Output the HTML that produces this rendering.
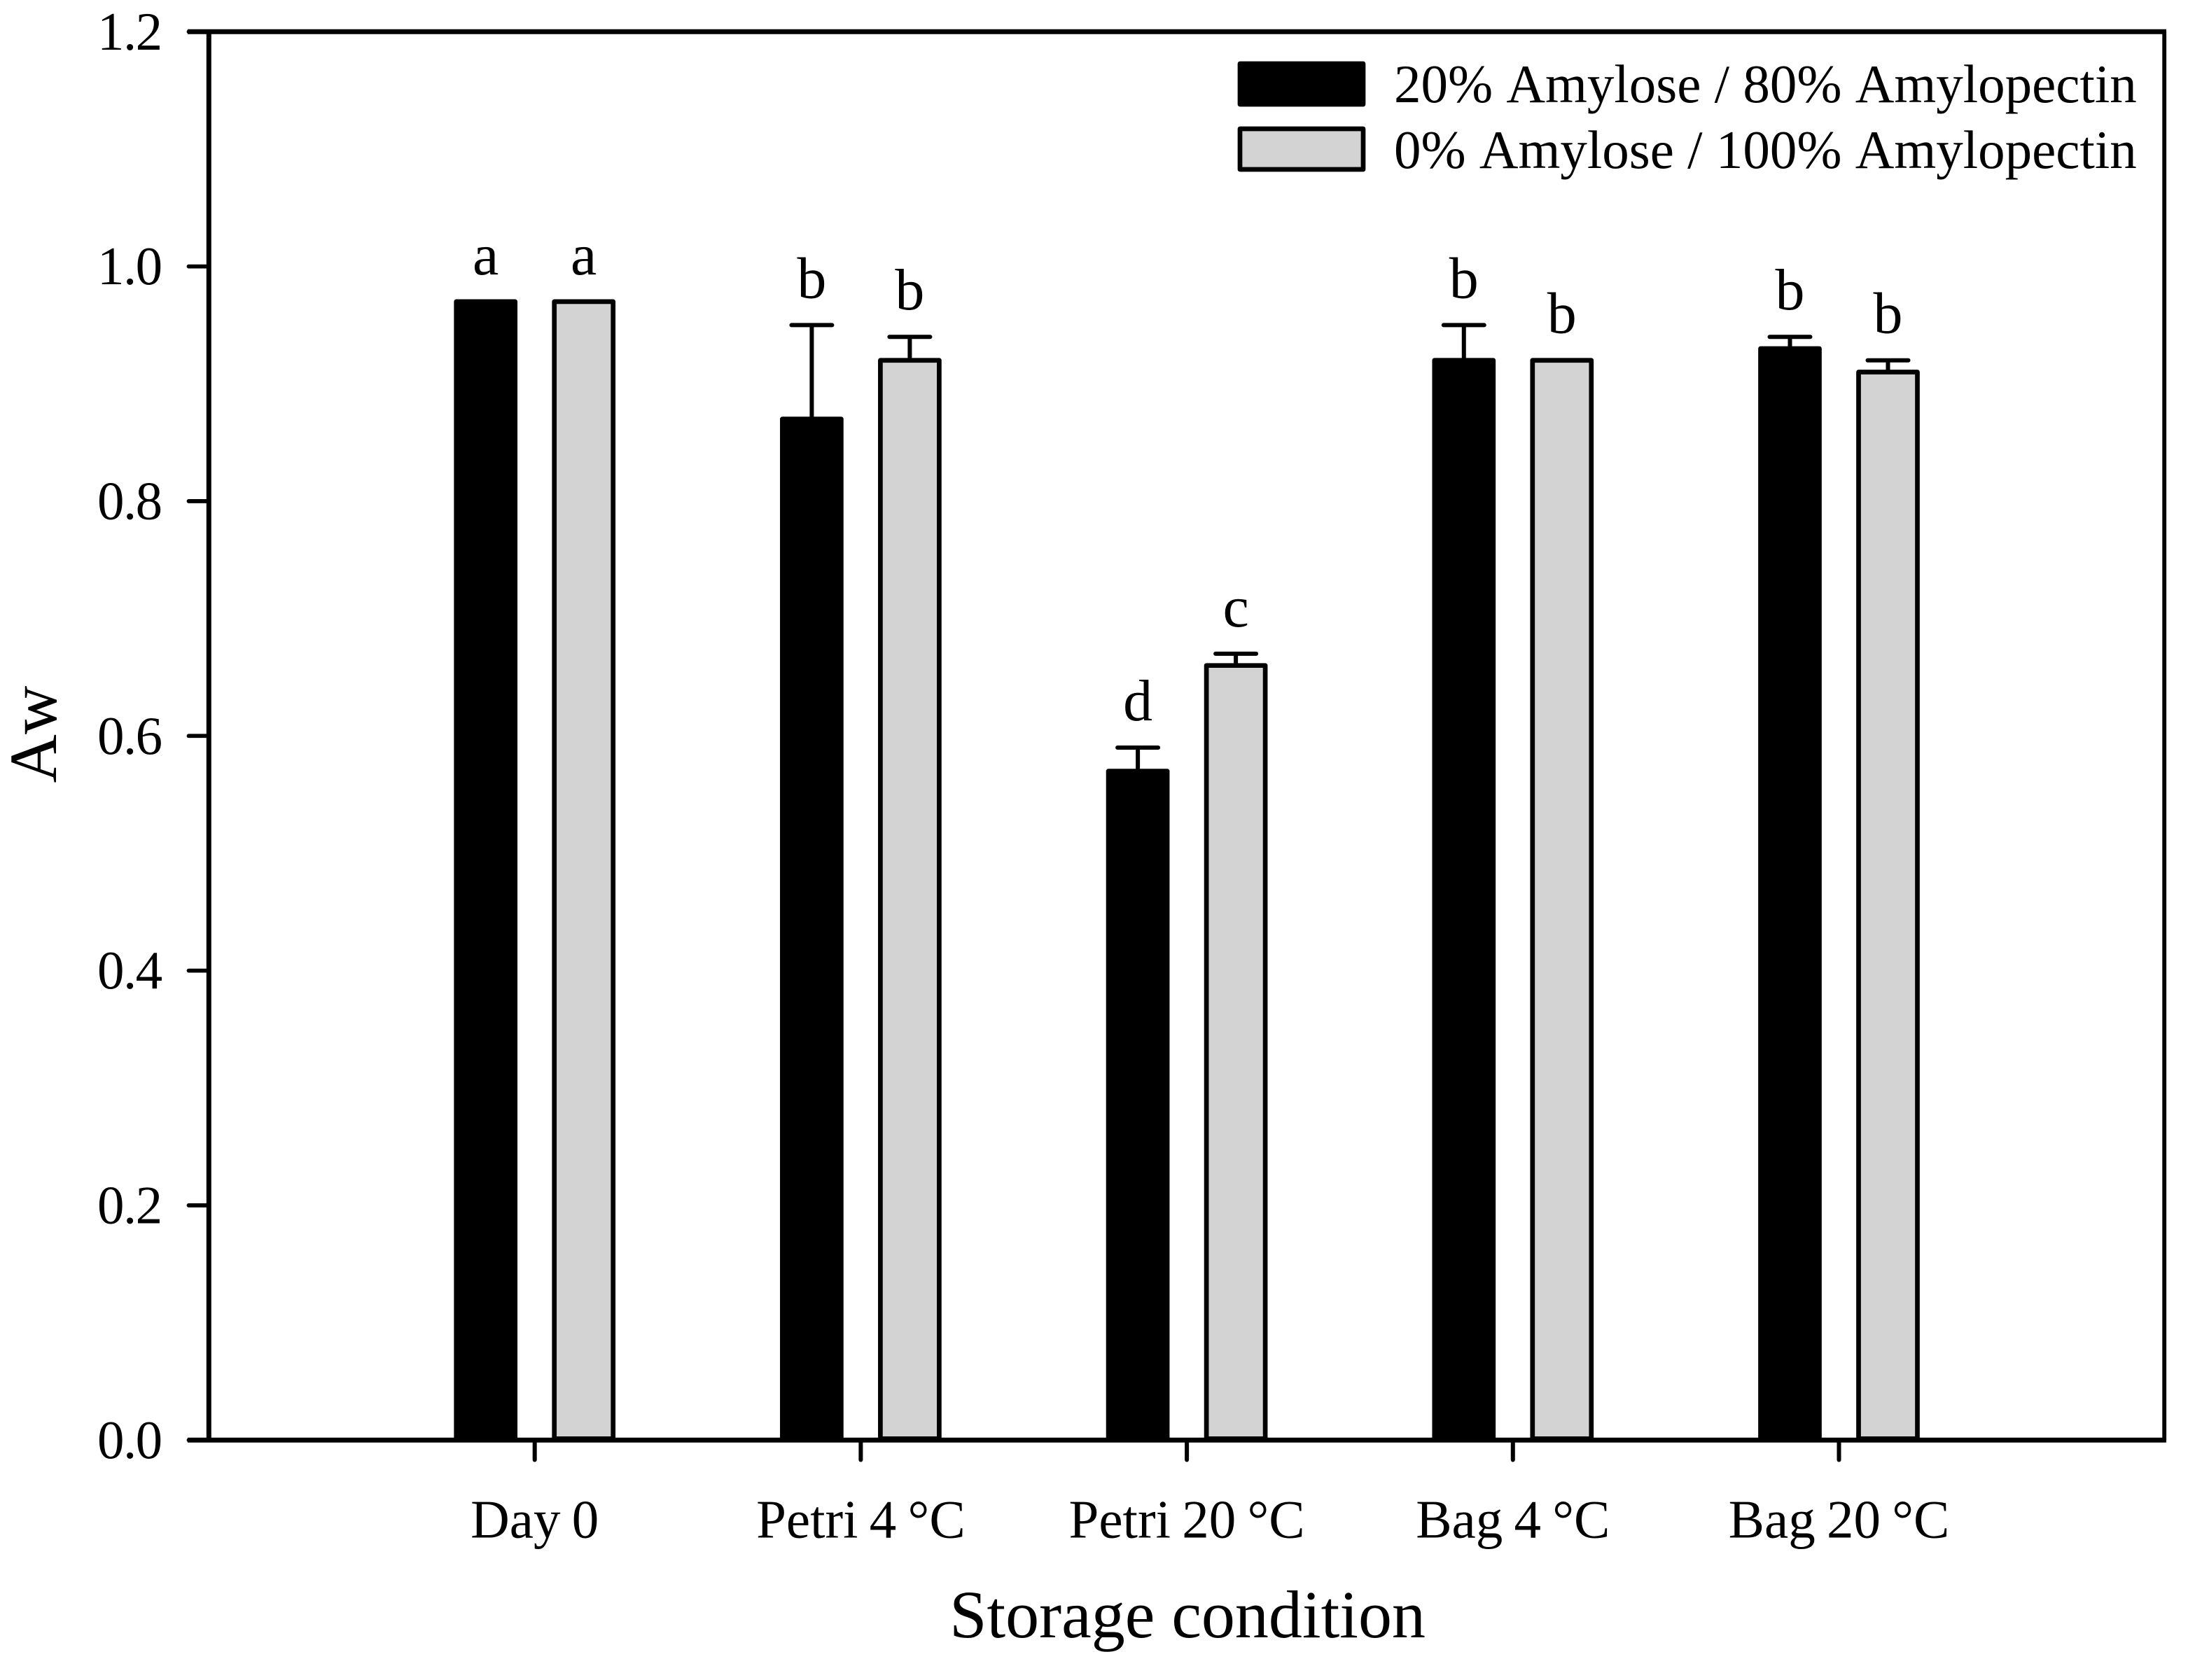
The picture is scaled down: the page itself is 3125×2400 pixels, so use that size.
<!DOCTYPE html>
<html lang="en">
<head>
<meta charset="utf-8">
<title>Aw by storage condition</title>
<style>
  html, body { margin: 0; padding: 0; background: #fff; }
  svg { display: block; }
  text { font-family: "Liberation Serif", "Times New Roman", serif; fill: #000; font-kerning: none; }
  .ytl { letter-spacing: -1.6px; }
  .xtl { word-spacing: -3px; }
</style>
</head>
<body>
<svg id="chart" xmlns="http://www.w3.org/2000/svg" width="3125" height="2400" viewBox="0 0 3125 2400">
  <rect x="0" y="0" width="3125" height="2400" fill="#fff"/>
  <g id="bars"></g>
  <g id="axes"></g>
  <text x="1704" y="2339" font-size="96" text-anchor="middle" style="font-kerning:normal" dx="-8">Storage condition</text>
  <text transform="translate(80 1049) rotate(-90)" font-size="96" text-anchor="middle">Aw</text>
  <g>
    <rect x="1771" y="91" width="176" height="58" fill="#000" stroke="#000" stroke-width="6.7" stroke-linejoin="round"/>
    <text x="1991" y="146" font-size="77">20% Amylose / 80% Amylopectin</text>
    <rect x="1771" y="184" width="176" height="58" fill="#d3d3d3" stroke="#000" stroke-width="6.7" stroke-linejoin="round"/>
    <text x="1991" y="240" font-size="77">0% Amylose / 100% Amylopectin</text>
  </g>
</svg>
<script>
const categories = ["Day 0", "Petri 4 °C", "Petri 20 °C", "Bag 4 °C", "Bag 20 °C"];
const amylose20Values = [0.97, 0.87, 0.57, 0.92, 0.93];
const amylose0Values = [0.97, 0.92, 0.66, 0.92, 0.91];
const amylose20Errors = [0, 0.08, 0.02, 0.03, 0.01];
const amylose0Errors = [0, 0.02, 0.01, 0, 0.01];
const amylose20Letters = ["a", "b", "d", "b", "b"];
const amylose0Letters = ["a", "b", "c", "b", "b"];
const yTicks = [0, 0.2, 0.4, 0.6, 0.8, 1.0, 1.2];

const NS = "http://www.w3.org/2000/svg";
const barsLayer = document.getElementById("bars");
const axesLayer = document.getElementById("axes");

function yScale(v) { return 2057.3 - v * 1676.7; }
function xScale(i) { return 763.7 + i * 465.7; }

function make(tag, parent, attrs) {
  const el = document.createElementNS(NS, tag);
  for (const k in attrs) el.setAttribute(k, attrs[k]);
  parent.appendChild(el);
  return el;
}

function drawBar(i, value, err, letter, offset, fill, key) {
  const cx = xScale(i) + offset;
  const top = yScale(value);
  const rect = make("rect", barsLayer, {
    x: cx - 42, y: top, width: 84, height: yScale(0) - 2 - top,
    fill: fill, stroke: "#000", "stroke-width": 6.7, "stroke-linejoin": "round"
  });
  
  
  const errTop = yScale(value + err);
  if (err > 0) {
    const stem = make("line", barsLayer, {
      x1: cx, x2: cx, y1: top, y2: errTop, stroke: "#000", "stroke-width": 6
    });
    
    
    const cap = make("line", barsLayer, {
      x1: cx - 29, x2: cx + 29, y1: errTop, y2: errTop,
      stroke: "#000", "stroke-width": 6, "stroke-linecap": "round"
    });
    
    
  }
  const label = make("text", barsLayer, {
    x: cx, y: errTop - 39, "font-size": 84, "text-anchor": "middle"
  });
  label.textContent = letter;
  
  
}

categories.forEach(function (name, i) {
  drawBar(i, amylose20Values[i], amylose20Errors[i], amylose20Letters[i], -70, "#000", "amylose20");
  drawBar(i, amylose0Values[i], amylose0Errors[i], amylose0Letters[i], 70, "#d3d3d3", "amylose0");
});

/* frame */
const frameTop = make("line", axesLayer, { x1: 268, x2: 3094, y1: yScale(1.2), y2: yScale(1.2), stroke: "#000", "stroke-width": 7 });


const frameBottom = make("line", axesLayer, { x1: 268, x2: 3094, y1: yScale(0), y2: yScale(0), stroke: "#000", "stroke-width": 7 });


const frameLeft = make("line", axesLayer, { x1: 298.3, x2: 298.3, y1: yScale(1.2), y2: yScale(0), stroke: "#000", "stroke-width": 7 });


const frameRight = make("line", axesLayer, { x1: 3091.2, x2: 3091.2, y1: yScale(1.2), y2: yScale(0), stroke: "#000", "stroke-width": 5.8 });



/* y ticks */
yTicks.forEach(function (t) {
  const y = yScale(t);
  const tick = make("line", axesLayer, {
    x1: 269.5, x2: 298, y1: y, y2: y, stroke: "#000", "stroke-width": 5.8, "stroke-linecap": "round"
  });
  
  
  const label = make("text", axesLayer, {
    x: 230.5, y: y + 25.5, "font-size": 77, "text-anchor": "end", "class": "ytl"
  });
  label.textContent = t.toFixed(1);
  
  
});

/* x ticks */
categories.forEach(function (name, i) {
  const x = xScale(i);
  const tick = make("line", axesLayer, {
    x1: x, x2: x, y1: yScale(0), y2: 2085.5, stroke: "#000", "stroke-width": 6, "stroke-linecap": "round"
  });
  
  
  const label = make("text", axesLayer, {
    x: x, y: 2196.7, "font-size": 77, "text-anchor": "middle", "class": "xtl"
  });
  label.textContent = name;
  
  
});
</script>
</body>
</html>
